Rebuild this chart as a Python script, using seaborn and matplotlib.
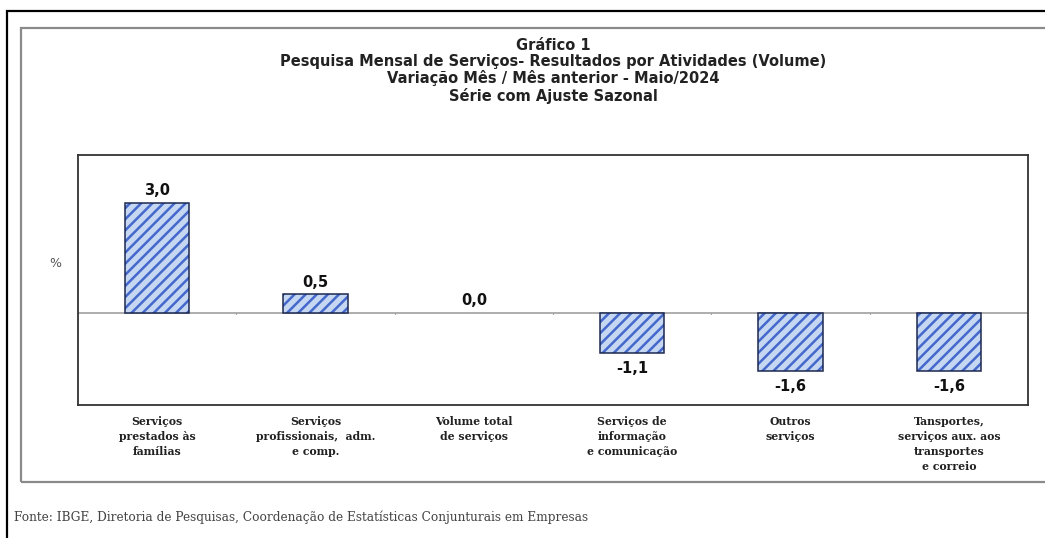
import matplotlib
matplotlib.use('Agg')
import matplotlib.pyplot as plt
from matplotlib.patches import Rectangle
import seaborn as sns
import pandas as pd

# data
categorias = ['Serviços\nprestados às\nfamílias',
              'Serviços\nprofissionais,  adm.\ne comp.',
              'Volume total\nde serviços',
              'Serviços de\ninformação\ne comunicação',
              'Outros\nserviços',
              'Tansportes,\nserviços aux. aos\ntransportes\ne correio']
variacao = [3.0, 0.5, 0.0, -1.1, -1.6, -1.6]
rotulos = ['3,0', '0,5', '0,0', '-1,1', '-1,6', '-1,6']

titulo = ('Gráfico 1\n'
          'Pesquisa Mensal de Serviços- Resultados por Atividades (Volume)\n'
          'Variação Mês / Mês anterior - Maio/2024\n'
          'Série com Ajuste Sazonal')
fonte = 'Fonte: IBGE, Diretoria de Pesquisas, Coordenação de Estatísticas Conjunturais em Empresas'

df = pd.DataFrame({'cat': categorias, 'val': variacao})

sns.set_theme(style='white')
plt.rcParams['hatch.linewidth'] = 1.8

W, H = 1045, 538
fig = plt.figure(figsize=(W / 100, H / 100), dpi=100)
ax = fig.add_axes([78 / W, (H - 405) / H, (1028 - 78) / W, (405 - 155) / H])

# hatched bars: hatch takes the edge colour, outline added afterwards
sns.barplot(data=df, x='cat', y='val', ax=ax, width=0.405,
            color='#c6d7f2', edgecolor='#4468cc', linewidth=0, hatch='///',
            saturation=1)
for p in list(ax.patches):
    if abs(p.get_height()) > 0:
        ax.add_patch(Rectangle(p.get_xy(), p.get_width(), p.get_height(),
                               fill=False, edgecolor='#1c2850', linewidth=1.1))

ax.set_ylim(-2.52, 4.30)
ax.set_xlim(-0.5, len(categorias) - 0.5)
ax.axhline(0, color='#a0a0a0', linewidth=1.2, zorder=0)
for i in range(len(categorias) + 1):
    ax.plot([i - 0.5, i - 0.5], [0, -0.05], color='#a0a0a0', linewidth=0.8)

for i, (v, t) in enumerate(zip(variacao, rotulos)):
    off = 0.33 if v >= 0 else -0.42
    ax.text(i, v + off, t, ha='center', va='center', fontsize=10.5,
            fontweight='bold', color='#111111', family='DejaVu Sans')

ax.set_xlabel('')
ax.set_ylabel('')
ax.set_yticks([])
ax.set_xticks(range(len(categorias)))
ax.set_xticklabels(categorias, fontsize=7.8, fontweight='bold',
                   family='DejaVu Serif', color='#222222', linespacing=1.45,
                   va='top')
ax.tick_params(axis='x', length=0, pad=8)
for s in ax.spines.values():
    s.set_color('#333333')
    s.set_linewidth(1.3)

# titles and notes
fig.text(553 / W, 1 - 38 / H, titulo, ha='center', va='top', fontsize=10.5,
         fontweight='bold', family=['Liberation Sans Narrow', 'DejaVu Sans'],
         color='#222222', linespacing=1.1)
fig.text(55 / W, 1 - 263 / H, '%', ha='center', va='center', fontsize=9,
         color='#555555')
fig.text(14 / W, 1 - 517 / H, fonte, ha='left', va='center', fontsize=8.7,
         family='DejaVu Serif', color='#444444')

# frames around the chart
fig.add_artist(Rectangle((7 / W, -0.1), 1.2, 1 - 11 / H + 0.1,
                         transform=fig.transFigure, fill=False,
                         edgecolor='#000000', linewidth=1.6))
fig.add_artist(Rectangle((21 / W, 1 - 482 / H), 1.2, (482 - 28) / H,
                         transform=fig.transFigure, fill=False,
                         edgecolor='#8a8a8a', linewidth=1.6))

fig.savefig('out.png', dpi=100)
